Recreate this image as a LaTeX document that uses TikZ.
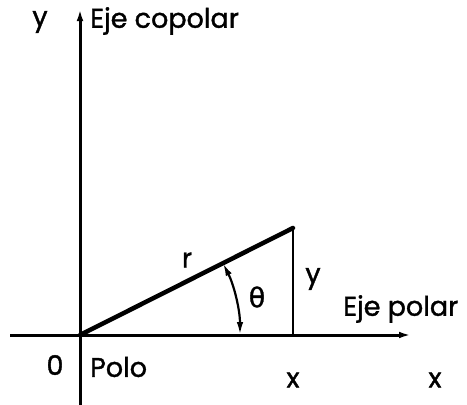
\documentclass[tikz,border=0pt]{standalone}
\usepackage{fontspec}
\setmainfont{Poppins}
\newfontfamily\lblfont[FakeBold=1.4]{Poppins}
\newfontfamily\grk[FakeBold=1.2]{DejaVu Sans}
\usetikzlibrary{arrows.meta}
\begin{document}
\begin{tikzpicture}[x=1pt,y=-1pt,
  axis/.style={line width=3pt,-{Latex[length=13pt,width=6.5pt]}},
  lbl/.style={font=\lblfont\fontsize{27}{29}\selectfont,inner sep=0pt},
  hyp/.style={line width=4.5pt},
  leg/.style={line width=2.4pt},
  ang/.style={line width=2.2pt,{Latex[length=13pt,width=6.5pt]}-{Latex[length=13pt,width=6.5pt]}}]
\useasboundingbox (0,0) rectangle (467,405);
\coordinate (O) at (80,335);
\coordinate (P) at (293,228);
\coordinate (F) at (293,335);
\coordinate (xl) at (10,335);
\coordinate (xr) at (412,335);
\coordinate (yb) at (80,405);
\coordinate (yt) at (80,8);
\draw[axis] (xl) -- (xr);
\draw[axis] (yb) -- (yt);
\draw[hyp,line cap=round] (O) -- (P);
\draw[leg] (P) -- (F);
\draw[ang] (240,335) arc[start angle=0,end angle=-26.7,radius=160];
\node[lbl] (ly) at (40,22) {y};
\node[lbl,anchor=west] (lcop) at (90,21) {Eje copolar};
\node[lbl] (lr) at (187,260) {r};
\node[lbl] (lth) at (257,297) {\grk θ};
\node[lbl] (ly2) at (313,279) {y};
\node[lbl,anchor=west] (lpol) at (343,309) {Eje polar};
\node[lbl] (l0) at (55,365) {0};
\node[lbl,anchor=west] (lpolo) at (90,367) {Polo};
\node[lbl] (lx1) at (293,380) {x};
\node[lbl] (lx2) at (435,380) {x};
\end{tikzpicture}
\end{document}
